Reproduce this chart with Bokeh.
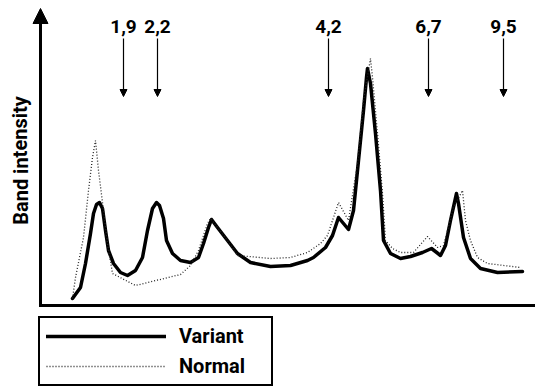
from bokeh.plotting import figure
from bokeh.models import Range1d, Arrow, NormalHead, Label, Legend, LegendItem
from bokeh.embed import file_html
from bokeh.resources import INLINE

# migration position (arbitrary units) and band intensity (arbitrary units)
variant_x = [32, 40, 45, 50, 53, 56, 59, 62, 65, 68, 73, 80, 87, 95, 102, 107, 112, 116, 119,
             123, 126, 132, 140, 150, 158, 163, 168, 171, 177, 187, 197, 210, 230, 250, 267,
             273, 285, 292, 298, 308, 313, 318, 323, 326, 327, 330, 335, 340, 343, 350, 360,
             370, 382, 391, 400, 405, 410, 416, 418, 423, 430, 440, 457, 482]
variant_y = [7, 18, 42, 72, 92, 101, 103, 97, 75, 55, 42, 33, 30, 35, 48, 75, 97, 103, 100,
             87, 65, 52, 45, 43, 48, 62, 78, 86, 78, 65, 52, 43, 39, 40, 45,
             48, 58, 70, 88, 76, 95, 145, 195, 228, 237, 222, 172, 115, 65, 52, 47,
             49, 53, 57, 50, 60, 85, 112, 102, 68, 47, 37, 33, 34]

normal_x = [32, 35, 43, 48, 52, 55, 58, 62, 67, 72, 95, 140, 150, 158, 167, 170, 177, 187,
            197, 230, 250, 267, 280, 287, 298, 308, 317, 323, 330, 332, 337, 342, 345, 352,
            360, 373, 387, 397, 403, 413, 422, 425, 430, 437, 447, 480]
normal_y = [7, 28, 68, 115, 148, 165, 135, 103, 62, 32, 20, 31, 40, 55, 82, 87, 78, 65,
            50, 47, 48, 53, 62, 70, 103, 85, 142, 205, 247, 228, 172, 112, 65, 57,
            53, 53, 69, 58, 60, 98, 115, 85, 65, 48, 42, 38]

marker_pos = [83, 117, 288, 388, 463]
marker_labels = ["1,9", "2,2", "4,2", "6,7", "9,5"]

FONT = "Roboto"

p = figure(width=535, height=387, output_backend="svg", toolbar_location=None,
           x_range=Range1d(-40, 495), y_range=Range1d(-82, 305),
           x_axis_type=None, y_axis_type=None, min_border=0)
p.outline_line_color = None
p.grid.visible = False
p.background_fill_color = "white"
p.border_fill_color = "white"

# axes: y with arrow head, x as thick baseline
p.add_layout(Arrow(x_start=0, y_start=-1, x_end=0, y_end=297, line_width=3, line_color="black",
                   end=NormalHead(size=15, fill_color="black", line_color="black")))
p.segment(x0=[-1.5], y0=[0], x1=[495], y1=[0], line_width=3, line_color="black")

p.add_layout(Label(x=-20, y=145, text="Band intensity", angle=1.5708, text_align="center",
                   text_baseline="middle", text_font=FONT, text_font_size="20px",
                   text_font_style="bold", text_color="black"))

rv = p.line(variant_x, variant_y, line_width=3.5, line_color="black",
            line_join="round", line_cap="round")
rn = p.line(normal_x, normal_y, line_width=1.3, line_color="#222222", line_dash="1 2")

for pos, lab in zip(marker_pos, marker_labels):
    p.add_layout(Arrow(x_start=pos, y_start=267, x_end=pos, y_end=209, line_width=1.2,
                       line_color="black",
                       end=NormalHead(size=7, fill_color="black", line_color="black")))
    p.add_layout(Label(x=pos, y=279, text=lab, text_align="center", text_baseline="middle",
                       text_font=FONT, text_font_size="19px", text_font_style="bold",
                       text_color="black"))

legend = Legend(items=[LegendItem(label="Variant", renderers=[rv]),
                       LegendItem(label="Normal", renderers=[rn])],
                location=(38, 1), orientation="vertical",
                border_line_color="black", border_line_width=2, border_line_alpha=1,
                background_fill_color="white", background_fill_alpha=1,
                padding=6, spacing=6, margin=0,
                glyph_height=20, label_height=20, glyph_width=120,
                label_standoff=13, label_width=86,
                label_text_font=FONT, label_text_font_size="20px",
                label_text_font_style="bold", label_text_color="black")
p.add_layout(legend, "center")

open("out.html", "w").write(file_html(p, INLINE))
